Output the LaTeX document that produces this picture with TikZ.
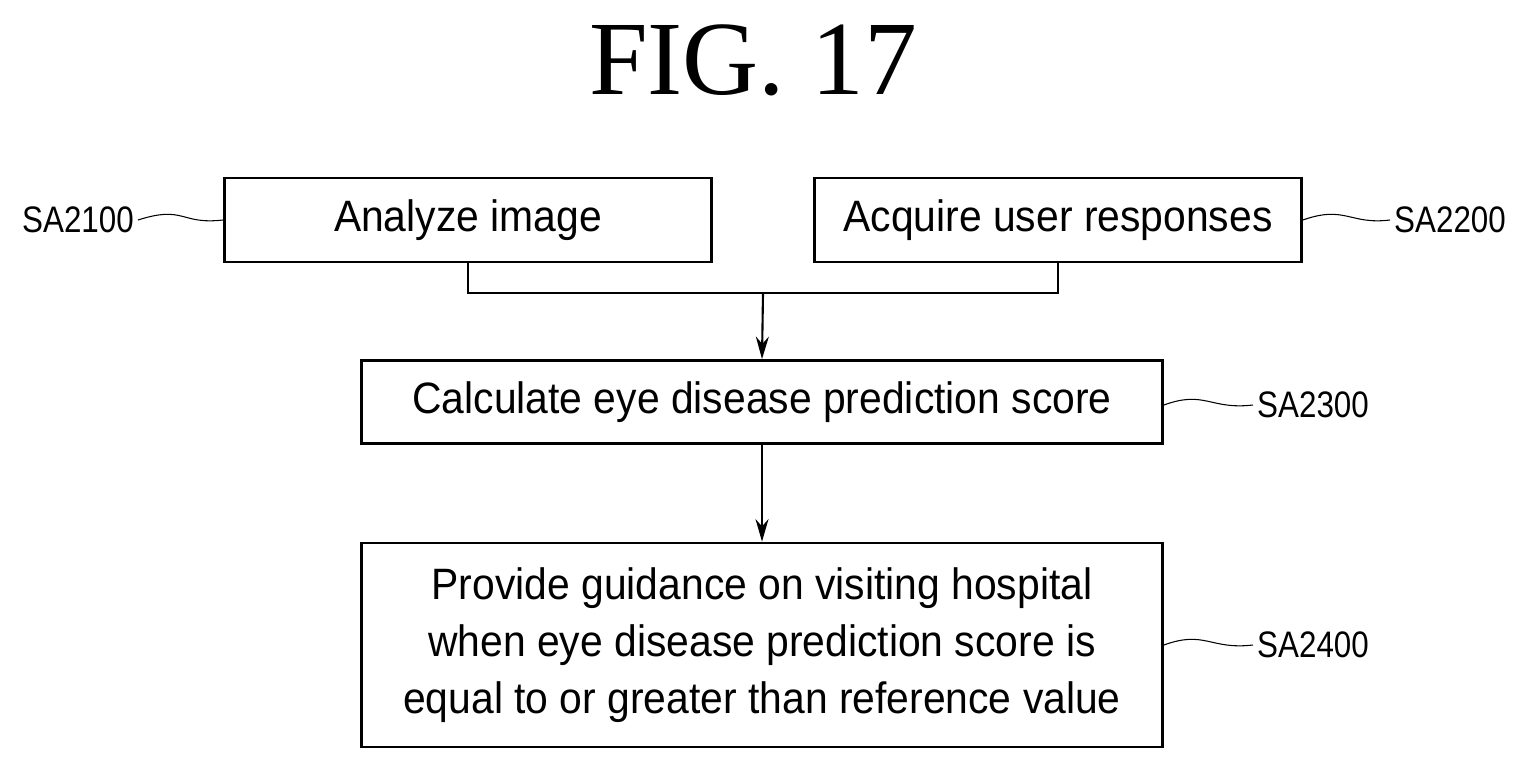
\documentclass[tikz,border=0pt]{standalone}
\usepackage{fontspec}
\setmainfont{Liberation Serif}
\newfontfamily\boxfont[FakeStretch=0.93]{Liberation Sans}
\newfontfamily\labfont[FakeStretch=0.85]{Liberation Sans}
\usetikzlibrary{arrows.meta,positioning}
\begin{document}
\begin{tikzpicture}[x=0.02cm,y=-0.02cm,>={Stealth[length=4.5mm,width=2.6mm]},thick,
    stepbox/.style={rectangle, draw=black, line width=1.6pt, inner sep=0pt, font=\boxfont\fontsize{25}{32.5}\selectfont, align=center},
    steplabel/.style={font=\labfont\fontsize{21}{24}\selectfont, inner sep=2pt}]
  \useasboundingbox (0,0) rectangle (1527,770);
  \node[font=\fontsize{60}{60}\selectfont] (title) at (753,60) {FIG. 17};

  \node[stepbox, minimum width=487*0.02cm, minimum height=84*0.02cm] (A) at (468,220) {Analyze image};
  \node[stepbox, minimum width=487*0.02cm, minimum height=84*0.02cm] (B) at (1058,220) {Acquire user responses};
  \node[stepbox, minimum width=801*0.02cm, minimum height=83*0.02cm] (C) at (762,402) {Calculate eye disease prediction score};
  \node[stepbox, minimum width=801*0.02cm, minimum height=204*0.02cm] (D) at (762,645)
    {Provide guidance on visiting hospital\\when eye disease prediction score is\\equal to or greater than reference value};

  \node[steplabel, anchor=east] (lA) at (138,220) {SA2100};
  \node[steplabel, anchor=west] (lB) at (1390,220) {SA2200};
  \node[steplabel, anchor=west] (lC) at (1253,405) {SA2300};
  \node[steplabel, anchor=west] (lD) at (1253,645) {SA2400};

  % leaders
  \draw[-, semithick] (lA.east) .. controls (185,205) and (180,225) .. (A.west);
  \draw[-, semithick] (B.east) .. controls (1345,205) and (1350,225) .. (lB.west);
  \draw[-, semithick] (C.east |- lC.west) .. controls (1205,390) and (1210,410) .. (lC.west);
  \draw[-, semithick] (D.east |- lD.west) .. controls (1205,630) and (1210,650) .. (lD.west);

  % connectors
  \coordinate (join) at (763,293);
  \draw[-] (A.south) |- (join) -| (B.south);
  \draw[->, line width=1.2pt] (join) -- (C.north);
  \draw[->, line width=1.2pt] (C.south) -- (D.north);
\end{tikzpicture}
\end{document}
